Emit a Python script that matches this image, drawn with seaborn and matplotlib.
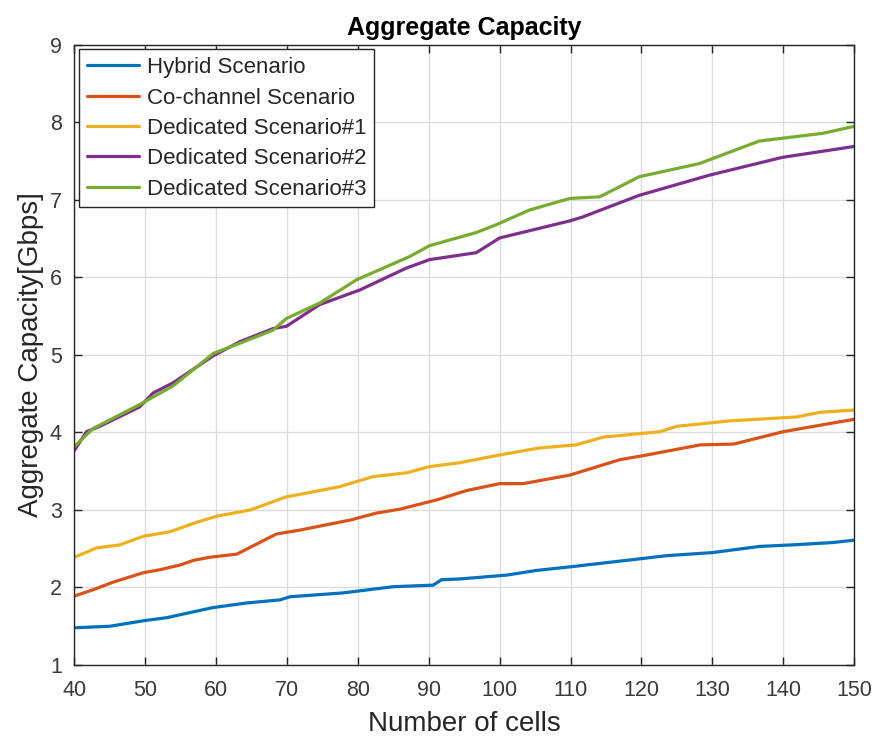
import matplotlib
matplotlib.use("Agg")
import matplotlib.pyplot as plt
import seaborn as sns
import pandas as pd

# ---- data ----
hybrid_x = [40, 45, 49.7, 53, 59.5, 64.3, 69, 70.4, 77.9, 85, 90.6, 91.8, 94.4, 101, 105.2, 110.3, 119.8, 123.5, 130, 136.7, 141.4, 147, 150]
hybrid_y = [1.48, 1.50, 1.57, 1.61, 1.74, 1.80, 1.84, 1.88, 1.93, 2.01, 2.03, 2.10, 2.11, 2.16, 2.22, 2.27, 2.37, 2.41, 2.45, 2.53, 2.55, 2.58, 2.61]

cochan_x = [40, 42.6, 45.5, 49.7, 52.1, 54.9, 56.8, 59.1, 62.9, 68.5, 71.8, 75.6, 78.9, 82.6, 85.9, 91.1, 95.3, 100, 103.3, 109.9, 117, 120.2, 128.3, 133, 140, 150]
cochan_y = [1.89, 1.97, 2.07, 2.19, 2.23, 2.29, 2.35, 2.39, 2.43, 2.69, 2.74, 2.81, 2.87, 2.96, 3.01, 3.13, 3.25, 3.34, 3.34, 3.45, 3.65, 3.70, 3.84, 3.85, 4.01, 4.17]

ded1_x = [40, 43.1, 46.4, 49.7, 53.5, 57.2, 60.1, 64.8, 69.9, 72.3, 77.4, 82.1, 86.9, 90.1, 94.4, 100, 105.6, 110.8, 114.6, 122.6, 125, 132.5, 141.9, 145.2, 150]
ded1_y = [2.39, 2.51, 2.55, 2.66, 2.72, 2.84, 2.92, 3.00, 3.17, 3.21, 3.30, 3.43, 3.48, 3.56, 3.61, 3.71, 3.80, 3.84, 3.94, 4.01, 4.08, 4.15, 4.20, 4.26, 4.29]

ded2_x = [40, 41.7, 43.6, 49.2, 51.1, 53.9, 59.6, 63.3, 68, 69.9, 74.6, 80.3, 86.8, 90.1, 96.7, 100, 109.9, 111.7, 119.7, 129.6, 139.9, 150]
ded2_y = [3.77, 4.01, 4.08, 4.33, 4.51, 4.64, 4.99, 5.17, 5.34, 5.37, 5.65, 5.84, 6.12, 6.23, 6.32, 6.51, 6.73, 6.78, 7.06, 7.32, 7.55, 7.69]

ded3_x = [40, 42.6, 49.2, 53.9, 59.6, 63.3, 68, 69.9, 74.6, 79.8, 87.3, 90.1, 96.7, 99.5, 104.2, 109.9, 114.1, 119.7, 128.2, 136.6, 145.6, 150]
ded3_y = [3.82, 4.05, 4.36, 4.60, 5.02, 5.15, 5.32, 5.47, 5.67, 5.97, 6.27, 6.41, 6.58, 6.68, 6.87, 7.02, 7.04, 7.30, 7.47, 7.76, 7.86, 7.95]

labels = ["Hybrid Scenario", "Co-channel Scenario", "Dedicated Scenario#1",
          "Dedicated Scenario#2", "Dedicated Scenario#3"]
colors = ["#0072BD", "#D95319", "#EDB120", "#7E2F8E", "#77AC30"]

frames = []
for lab, xs, ys in zip(labels,
                       [hybrid_x, cochan_x, ded1_x, ded2_x, ded3_x],
                       [hybrid_y, cochan_y, ded1_y, ded2_y, ded3_y]):
    frames.append(pd.DataFrame({"cells": xs, "cap": ys, "scenario": lab}))
df = pd.concat(frames, ignore_index=True)

sns.set_theme(style="whitegrid")
plt.rcParams["font.family"] = ["Liberation Sans", "DejaVu Sans"]

fig = plt.figure(figsize=(8.75, 7.42), dpi=100)
ax = fig.add_axes([0.0851, 0.1038, 0.8909, 0.8356])

sns.lineplot(data=df, x="cells", y="cap", hue="scenario", hue_order=labels,
             palette=colors, linewidth=2.3, sort=False, estimator=None, ax=ax)

ax.set_xlim(40, 150)
ax.set_ylim(1, 9)
ax.set_xticks(range(40, 151, 10))
ax.set_yticks(range(1, 10))
ax.grid(True, color="#dcdcdc", linewidth=1.0)
ax.set_facecolor("white")
for s in ax.spines.values():
    s.set_visible(True)
    s.set_color("#262626")
    s.set_linewidth(1.0)
ax.tick_params(direction="in", length=6, width=1, color="#262626",
               labelsize=15.5, labelcolor="#3a3a3a", top=True, right=True,
               bottom=True, left=True)
ax.tick_params(axis="x", pad=11)
ax.tick_params(axis="y", pad=9)

ax.set_xlabel("Number of cells", fontsize=20, color="#262626", labelpad=7)
ax.set_ylabel("Aggregate Capacity[Gbps]", fontsize=20, color="#262626", labelpad=4)
ax.set_title("Aggregate Capacity", fontsize=18, fontweight="bold", color="black", pad=7)

leg = ax.legend(loc="upper left", fontsize=16, frameon=True, fancybox=False,
                edgecolor="#262626", framealpha=1, handlelength=2.35,
                handletextpad=0.35, borderaxespad=0.2, labelspacing=0.42,
                borderpad=0.35)
leg.get_frame().set_linewidth(1.0)
for t in leg.get_texts():
    t.set_color("#262626")

fig.savefig("out.png", dpi=100)
